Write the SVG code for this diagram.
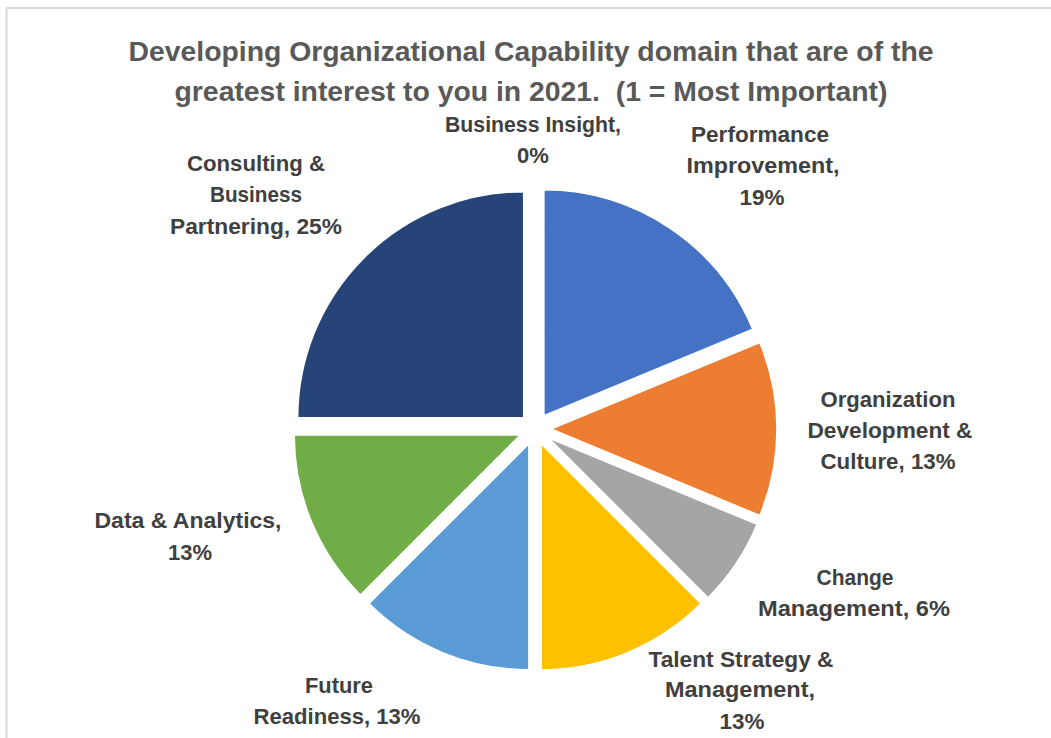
<svg xmlns="http://www.w3.org/2000/svg" width="1051" height="738" viewBox="0 0 1051 738">
<style>
.title{font-family:"Liberation Sans",Arial,sans-serif;font-weight:bold;font-size:28px;fill:#595959;text-anchor:middle}
.lbl{font-family:"Liberation Sans",Arial,sans-serif;font-weight:bold;font-size:22px;fill:#404040;text-anchor:middle}
.slice{stroke:#ffffff;stroke-width:1.5}
</style>
<rect x="0" y="0" width="1051" height="738" fill="#ffffff"/>
<g id="frame" stroke="#d9d9d9" stroke-width="2" fill="none">
<line x1="6" y1="8" x2="1051" y2="8"/>
<line x1="6.5" y1="8" x2="6.5" y2="738"/>
</g>
<g id="title">
<text class="title" x="531" y="61" textLength="805" lengthAdjust="spacingAndGlyphs">Developing Organizational Capability domain that are of the</text>
<text class="title" x="531" y="101" textLength="713" lengthAdjust="spacingAndGlyphs">greatest interest to you in 2021.&#160; (1 = Most Important)</text>
</g>
<g id="slices">
<g id="slice-performance"><path class="slice" fill="#4472C4" d="M543.89,415.70 L543.89,189.70 A226,226 0 0 1 752.69,329.21 Z"/></g>
<g id="slice-org"><path class="slice" fill="#ED7D31" d="M551,429 L759.80,342.51 A226,226 0 0 1 759.80,515.49 Z"/></g>
<g id="slice-change"><path class="slice" fill="#A5A5A5" d="M548.30,437.89 L757.10,524.38 A226,226 0 0 1 708.11,597.70 Z"/></g>
<g id="slice-talent"><path class="slice" fill="#FFC000" d="M541.12,443.78 L700.93,603.59 A226,226 0 0 1 541.12,669.78 Z"/></g>
<g id="slice-future"><path class="slice" fill="#5B9BD5" d="M528.88,443.78 L528.88,669.78 A226,226 0 0 1 369.07,603.59 Z"/></g>
<g id="slice-data"><path class="slice" fill="#70AD47" d="M520.22,435.12 L360.41,594.93 A226,226 0 0 1 294.22,435.12 Z"/></g>
<g id="slice-consulting"><path class="slice" fill="#264478" d="M523.69,417.69 L297.69,417.69 A226,226 0 0 1 523.69,191.69 Z"/></g>
</g>
<g id="labels">
<g id="label-business-insight">
<text class="lbl" x="533" y="132" textLength="176" lengthAdjust="spacingAndGlyphs">Business Insight,</text>
<text class="lbl" x="533" y="163">0%</text>
</g>
<g id="label-performance">
<text class="lbl" x="760" y="142" textLength="138" lengthAdjust="spacingAndGlyphs">Performance</text>
<text class="lbl" x="763" y="173" textLength="153" lengthAdjust="spacingAndGlyphs">Improvement,</text>
<text class="lbl" x="762" y="205" textLength="45" lengthAdjust="spacingAndGlyphs">19%</text>
</g>
<g id="label-consulting">
<text class="lbl" x="256" y="171" textLength="138" lengthAdjust="spacingAndGlyphs">Consulting &amp;</text>
<text class="lbl" x="256" y="202" textLength="92" lengthAdjust="spacingAndGlyphs">Business</text>
<text class="lbl" x="256" y="234" textLength="172" lengthAdjust="spacingAndGlyphs">Partnering, 25%</text>
</g>
<g id="label-org">
<text class="lbl" x="888" y="407" textLength="135" lengthAdjust="spacingAndGlyphs">Organization</text>
<text class="lbl" x="890" y="438" textLength="165" lengthAdjust="spacingAndGlyphs">Development &amp;</text>
<text class="lbl" x="888" y="469" textLength="135" lengthAdjust="spacingAndGlyphs">Culture, 13%</text>
</g>
<g id="label-change">
<text class="lbl" x="855" y="585" textLength="77" lengthAdjust="spacingAndGlyphs">Change</text>
<text class="lbl" x="854" y="616" textLength="192" lengthAdjust="spacingAndGlyphs">Management, 6%</text>
</g>
<g id="label-talent">
<text class="lbl" x="741" y="667" textLength="185" lengthAdjust="spacingAndGlyphs">Talent Strategy &amp;</text>
<text class="lbl" x="740" y="697" textLength="150" lengthAdjust="spacingAndGlyphs">Management,</text>
<text class="lbl" x="742" y="729" textLength="45" lengthAdjust="spacingAndGlyphs">13%</text>
</g>
<g id="label-future">
<text class="lbl" x="339" y="693" textLength="68" lengthAdjust="spacingAndGlyphs">Future</text>
<text class="lbl" x="337" y="724" textLength="167" lengthAdjust="spacingAndGlyphs">Readiness, 13%</text>
</g>
<g id="label-data">
<text class="lbl" x="188" y="528" textLength="187" lengthAdjust="spacingAndGlyphs">Data &amp; Analytics,</text>
<text class="lbl" x="190" y="560" textLength="44" lengthAdjust="spacingAndGlyphs">13%</text>
</g>
</g>
</svg>
